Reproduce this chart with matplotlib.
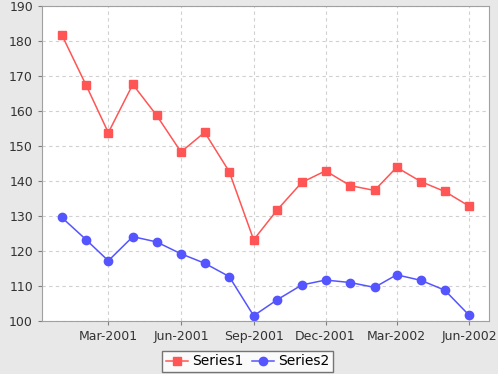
import datetime as dt

import matplotlib
matplotlib.use("Agg")
import matplotlib.pyplot as plt
import matplotlib.dates as mdates

months = [dt.date(2001, m, 1) for m in range(1, 13)] + [dt.date(2002, m, 1) for m in range(1, 7)]
series1 = [181.8, 167.3, 153.8, 167.6, 158.8, 148.3, 153.9, 142.7, 123.2,
           131.8, 139.6, 142.9, 138.7, 137.3, 143.9, 139.8, 137.0, 132.8]
series2 = [129.6, 123.2, 117.2, 124.1, 122.6, 119.2, 116.5, 112.7, 101.5,
           106.1, 110.3, 111.7, 111.0, 109.6, 113.2, 111.6, 108.8, 101.6]
tick_dates = [dt.date(2001, 3, 1), dt.date(2001, 6, 1), dt.date(2001, 9, 1),
              dt.date(2001, 12, 1), dt.date(2002, 3, 1), dt.date(2002, 6, 1)]

bg = "#e8e8e8"
fig = plt.figure(figsize=(4.98, 3.74), dpi=100, facecolor=bg)
ax = fig.add_axes([0.0843, 0.1417, 0.8977, 0.8423])

ax.plot(months, series1, color="#ff5555", marker="s", markersize=6,
        linewidth=1.1, label="Series1")
ax.plot(months, series2, color="#5555ff", marker="o", markersize=6,
        linewidth=1.1, label="Series2")

ax.set_ylim(100, 190)
ax.set_yticks(range(100, 191, 10))
ax.set_xlim(dt.date(2000, 12, 7), dt.date(2002, 6, 26))
ax.set_xticks(tick_dates)
ax.xaxis.set_major_formatter(mdates.DateFormatter("%b-%Y"))

ax.grid(True, color="#d0d0d0", linestyle=(0, (3, 3)), linewidth=0.8)
ax.set_axisbelow(True)
for s in ax.spines.values():
    s.set_color("#a0a0a0")
ax.tick_params(colors="#808080", labelcolor="#333333", labelsize=9,
               length=3, width=0.8)

leg = ax.legend(loc="upper center", bbox_to_anchor=(0.46, -0.095), ncol=2,
                frameon=True, fancybox=False, fontsize=10, handlelength=1.6,
                handletextpad=0.3, columnspacing=0.6, borderpad=0.25,
                borderaxespad=0)
leg.get_frame().set_edgecolor("#555555")
leg.get_frame().set_linewidth(1.0)

fig.savefig("out.png", dpi=100, facecolor=bg)
